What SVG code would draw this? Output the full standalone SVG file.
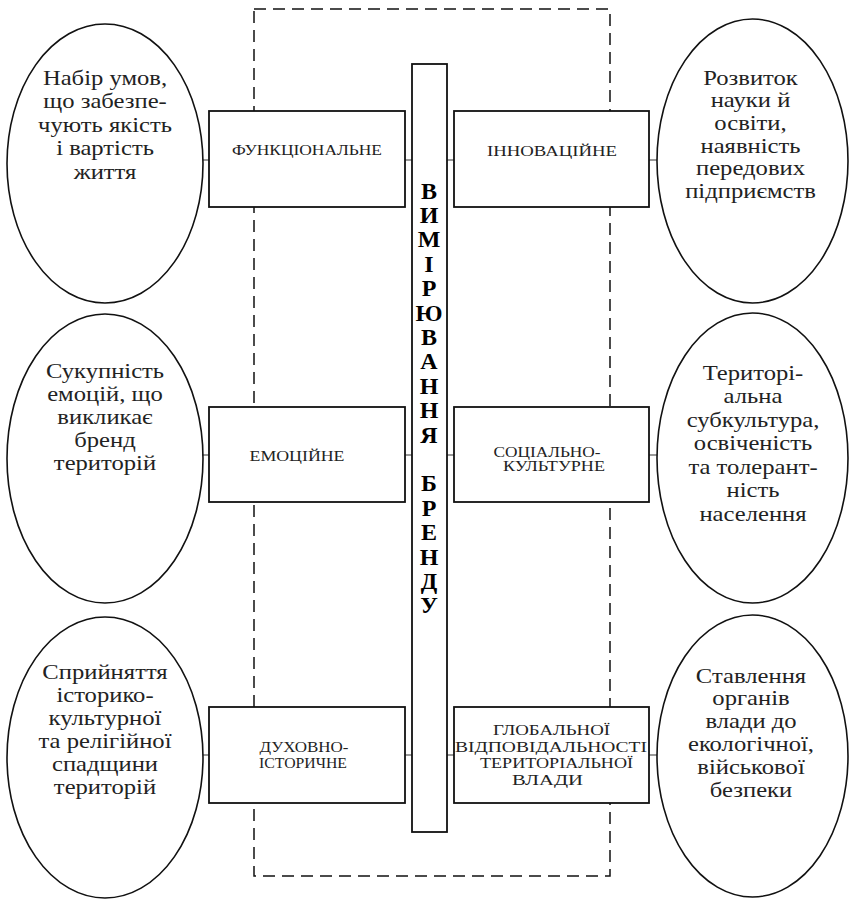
<svg xmlns="http://www.w3.org/2000/svg" width="850" height="900" viewBox="0 0 850 900">
<style>
.ell{fill:none;stroke:#111;stroke-width:1.6}
.box{fill:#fff;stroke:#111;stroke-width:1.8}
.dash{fill:none;stroke:#111;stroke-width:1.5;stroke-dasharray:12 7}
.con{stroke:#777;stroke-width:1.5}
.et{font-size:22px;fill:#222;text-anchor:middle}
.bt{font-size:14px;fill:#222;text-anchor:middle}
.bt2{font-size:15px;fill:#222;text-anchor:middle}
.vt{font-size:24px;font-weight:bold;fill:#000;text-anchor:middle}
</style>
<rect width="850" height="900" fill="#fff"/>
<rect id="frame" class="dash" x="254" y="9" width="356" height="867"/>
<g id="connectors">
<line class="con" x1="203" y1="160" x2="209" y2="160"/>
<line class="con" x1="405" y1="160" x2="412" y2="160"/>
<line class="con" x1="447" y1="160" x2="454" y2="160"/>
<line class="con" x1="649" y1="160" x2="657" y2="160"/>
<line class="con" x1="202" y1="455" x2="209" y2="455"/>
<line class="con" x1="405" y1="455" x2="412" y2="455"/>
<line class="con" x1="447" y1="455" x2="454" y2="455"/>
<line class="con" x1="649" y1="455" x2="657" y2="455"/>
<line class="con" x1="203" y1="755" x2="209" y2="755"/>
<line class="con" x1="405" y1="755" x2="412" y2="755"/>
<line class="con" x1="447" y1="755" x2="454" y2="755"/>
<line class="con" x1="649" y1="755" x2="657" y2="755"/>
</g>
<g font-family="'Liberation Serif', 'DejaVu Serif', 'Times New Roman', serif">
<g id="center">
<rect class="box" x="412" y="64" width="35" height="768"/>
<text class="vt" x="429" y="198.5">В</text>
<text class="vt" x="429" y="222.9">И</text>
<text class="vt" x="429" y="247.3">М</text>
<text class="vt" x="429" y="271.7">І</text>
<text class="vt" x="429" y="296.1">Р</text>
<text class="vt" x="429" y="320.5">Ю</text>
<text class="vt" x="429" y="344.9">В</text>
<text class="vt" x="429" y="369.3">А</text>
<text class="vt" x="429" y="393.7">Н</text>
<text class="vt" x="429" y="418.1">Н</text>
<text class="vt" x="429" y="442.5">Я</text>
<text class="vt" x="429" y="491.3">Б</text>
<text class="vt" x="429" y="515.7">Р</text>
<text class="vt" x="429" y="540.1">Е</text>
<text class="vt" x="429" y="564.5">Н</text>
<text class="vt" x="429" y="588.9">Д</text>
<text class="vt" x="429" y="613.3">У</text>
</g>
<g id="box-func">
<rect class="box" x="209" y="111" width="196" height="96"/>
<text class="bt" x="307" y="155" textLength="150" lengthAdjust="spacingAndGlyphs">ФУНКЦІОНАЛЬНЕ</text>
</g>
<g id="box-innov">
<rect class="box" x="454" y="111" width="195" height="96"/>
<text class="bt" x="552" y="156" textLength="130" lengthAdjust="spacingAndGlyphs">ІННОВАЦІЙНЕ</text>
</g>
<g id="box-emo">
<rect class="box" x="209" y="407" width="196" height="95"/>
<text class="bt" x="297" y="461" textLength="95" lengthAdjust="spacingAndGlyphs">ЕМОЦІЙНЕ</text>
</g>
<g id="box-soc">
<rect class="box" x="454" y="407" width="195" height="95"/>
<text class="bt" x="547" y="457" font-size="12.5" textLength="107" lengthAdjust="spacingAndGlyphs">СОЦІАЛЬНО-</text>
<text class="bt" x="554" y="470.5" font-size="12.5" textLength="102" lengthAdjust="spacingAndGlyphs">КУЛЬТУРНЕ</text>
</g>
<g id="box-spirit">
<rect class="box" x="209" y="707" width="196" height="96"/>
<text class="bt" x="304" y="752" textLength="89" lengthAdjust="spacingAndGlyphs">ДУХОВНО-</text>
<text class="bt" x="303" y="768" textLength="88" lengthAdjust="spacingAndGlyphs">ІСТОРИЧНЕ</text>
</g>
<g id="box-global">
<rect class="box" x="454" y="707" width="195" height="96"/>
<text class="bt2" x="551.5" y="735" textLength="117" lengthAdjust="spacingAndGlyphs">ГЛОБАЛЬНОЇ</text>
<text class="bt2" x="551" y="752" textLength="192" lengthAdjust="spacingAndGlyphs">ВІДПОВІДАЛЬНОСТІ</text>
<text class="bt2" x="556.5" y="768" textLength="153" lengthAdjust="spacingAndGlyphs">ТЕРИТОРІАЛЬНОЇ</text>
<text class="bt2" x="547.5" y="785" textLength="71" lengthAdjust="spacingAndGlyphs">ВЛАДИ</text>
</g>
<g id="ell-l1">
<ellipse class="ell" cx="105" cy="163.5" rx="98" ry="139.5"/>
<g transform="translate(105 0) scale(1.12 1)">
<text class="et" x="0" y="85">Набір умов,</text>
<text class="et" x="0" y="108.5">що забезпе-</text>
<text class="et" x="0" y="132">чують якість</text>
<text class="et" x="0" y="155.5">і вартість</text>
<text class="et" x="0" y="179">життя</text>
</g>
</g>
<g id="ell-r1">
<ellipse class="ell" cx="752.5" cy="161" rx="95.5" ry="142"/>
<g transform="translate(750.5 0) scale(1.12 1)">
<text class="et" x="0" y="85">Розвиток</text>
<text class="et" x="0" y="107.5">науки й</text>
<text class="et" x="0" y="130">освіти,</text>
<text class="et" x="0" y="153">наявність</text>
<text class="et" x="0" y="175.5">передових</text>
<text class="et" x="0" y="198">підприємств</text>
</g>
</g>
<g id="ell-l2">
<ellipse class="ell" cx="105" cy="458.5" rx="98" ry="144.5"/>
<g transform="translate(105 0) scale(1.12 1)">
<text class="et" x="0" y="378">Сукупність</text>
<text class="et" x="0" y="401">емоцій, що</text>
<text class="et" x="0" y="424">викликає</text>
<text class="et" x="0" y="447">бренд</text>
<text class="et" x="0" y="470">територій</text>
</g>
</g>
<g id="ell-r2">
<ellipse class="ell" cx="752.5" cy="458" rx="95.5" ry="145"/>
<g transform="translate(753 0) scale(1.12 1)">
<text class="et" x="0" y="380">Територі-</text>
<text class="et" x="0" y="403.5">альна</text>
<text class="et" x="0" y="427">субкультура,</text>
<text class="et" x="0" y="450.5">освіченість</text>
<text class="et" x="0" y="474">та толерант-</text>
<text class="et" x="0" y="497.5">ність</text>
<text class="et" x="0" y="521">населення</text>
</g>
</g>
<g id="ell-l3">
<ellipse class="ell" cx="105" cy="757.5" rx="98" ry="140.5"/>
<g transform="translate(105 0) scale(1.12 1)">
<text class="et" x="0" y="679">Сприйняття</text>
<text class="et" x="0" y="702">історико-</text>
<text class="et" x="0" y="725">культурної</text>
<text class="et" x="0" y="748">та релігійної</text>
<text class="et" x="0" y="771">спадщини</text>
<text class="et" x="0" y="794">територій</text>
</g>
</g>
<g id="ell-r3">
<ellipse class="ell" cx="752.5" cy="756" rx="95.5" ry="141"/>
<g transform="translate(751 0) scale(1.12 1)">
<text class="et" x="0" y="683">Ставлення</text>
<text class="et" x="0" y="705.5">органів</text>
<text class="et" x="0" y="728">влади до</text>
<text class="et" x="0" y="751">екологічної,</text>
<text class="et" x="0" y="774">військової</text>
<text class="et" x="0" y="797">безпеки</text>
</g>
</g>
</g>
</svg>
